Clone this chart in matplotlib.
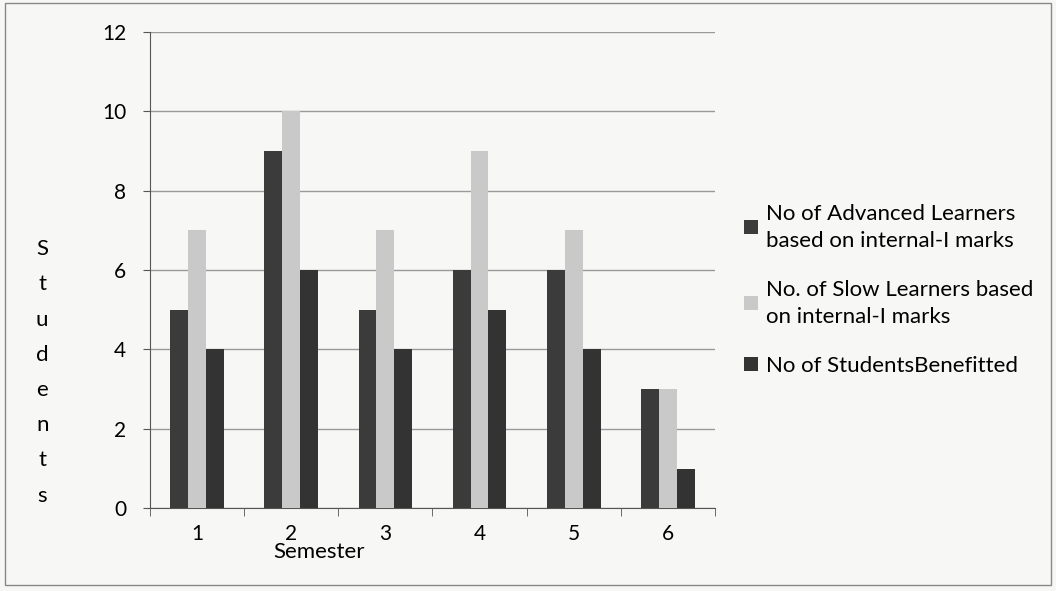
import numpy as np
import matplotlib.pyplot as plt
from matplotlib.patches import Rectangle

semesters = ["1", "2", "3", "4", "5", "6"]
advanced = [5, 9, 5, 6, 6, 3]
slow = [7, 10, 7, 9, 7, 3]
benefitted = [4, 6, 4, 5, 4, 1]
labels = ["No of Advanced Learners\nbased on internal-I marks",
          "No. of Slow Learners based\non internal-I marks",
          "No of StudentsBenefitted"]
colors = ["#3b3b3b", "#c9c9c9", "#333333"]

plt.rcParams['font.family'] = ['Lato', 'DejaVu Sans']

fig = plt.figure(figsize=(10.56, 5.91), dpi=100, facecolor="#f7f7f5")
ax = fig.add_axes([0.142, 0.14, 0.535, 0.806], facecolor="#f7f7f5")

x = np.arange(len(semesters))
w = 0.19
ax.bar(x - w, advanced, w, color=colors[0], label=labels[0], zorder=3)
ax.bar(x, slow, w, color=colors[1], label=labels[1], zorder=3)
ax.bar(x + w, benefitted, w, color=colors[2], label=labels[2], zorder=3)

ax.set_ylim(0, 12)
ax.set_yticks(range(0, 13, 2))
ax.set_xlim(-0.5, len(semesters) - 0.5)
ax.set_xticks(x)
ax.set_xticklabels(semesters)
ax.set_xticks(np.arange(-0.5, len(semesters)), minor=True)
ax.tick_params(axis="x", which="major", length=0, pad=11, labelsize=15)
ax.tick_params(axis="x", which="minor", length=6, color="#555555")
ax.tick_params(axis="y", length=5, color="#555555", labelsize=15, pad=12)
ax.grid(axis="y", color="#9a9a9a", linewidth=1, zorder=0)
for s in ["top", "right"]:
    ax.spines[s].set_visible(False)
ax.spines["left"].set_color("#555555")
ax.spines["bottom"].set_color("#555555")

ax.set_xlabel("Semester", fontsize=16)
ax.xaxis.set_label_coords(0.30, -0.07)
fig.text(0.04, 0.37, "\n".join("Students"), fontsize=16, ha="center", va="center",
         linespacing=1.95)

leg = fig.legend(loc="center left", bbox_to_anchor=(0.686, 0.51), frameon=False,
                 fontsize=16, handlelength=0.6, handleheight=0.6, handletextpad=0.35,
                 labelspacing=1.3)
for t in leg.get_texts():
    t.set_linespacing(1.45)

fig.patches.append(Rectangle((0.005, 0.01), 0.99, 0.985, transform=fig.transFigure,
                             fill=False, edgecolor="#888888", linewidth=1))

fig.savefig("out.png", dpi=100, facecolor=fig.get_facecolor())
